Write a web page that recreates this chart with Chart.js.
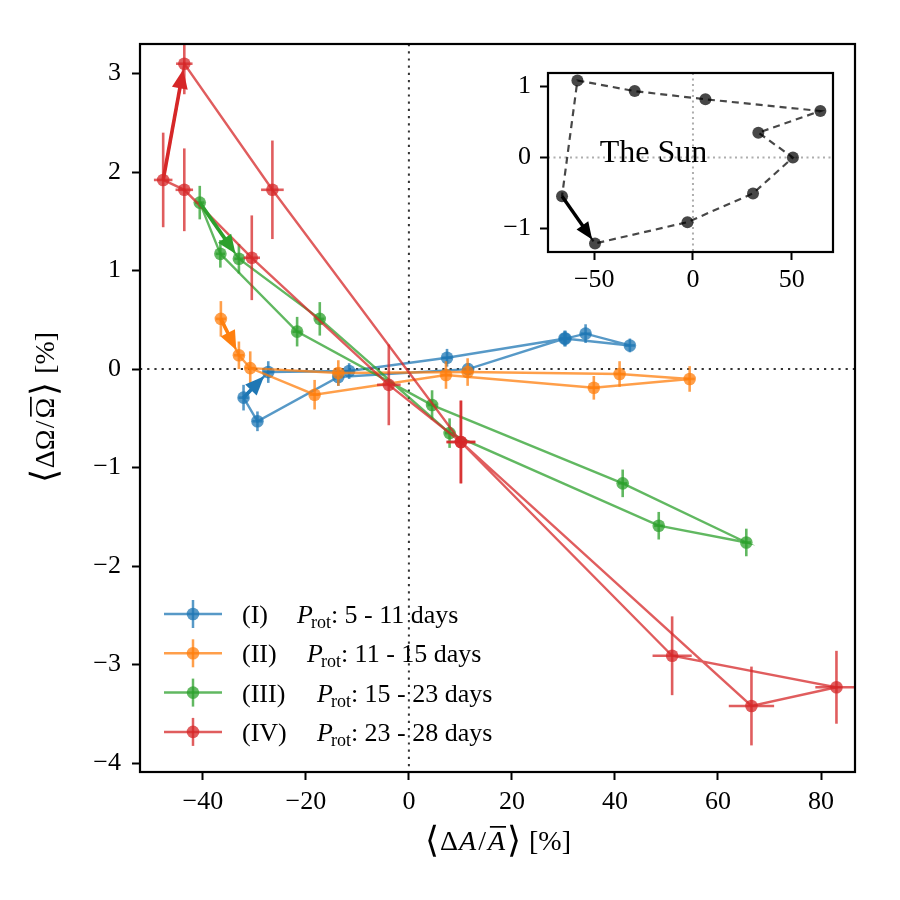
<!DOCTYPE html>
<html>
<head>
<meta charset="UTF-8">
<title>Rotation shear vs spot area</title>
<script src="https://cdn.jsdelivr.net/npm/chart.js@4.4.1/dist/chart.umd.min.js"></script>
<style>
    body { margin: 0; background: #fff; }
    #wrap { position: relative; width: 900px; height: 900px; }
    #mainChart { position: absolute; left: 0; top: 0; }
    #sunChart { position: absolute; left: 480px; top: 40px; }
</style>
</head>
<body>
<div id="wrap">
    <canvas id="mainChart" width="900" height="900"></canvas>
    <canvas id="sunChart" width="400" height="260"></canvas>
</div>
<script>
// axis limits and ticks
var xRange = [-52.2, 86.6];
var yRange = [-4.09, 3.30];
var xTicks = [-40, -20, 0, 20, 40, 60, 80];
var yTicks = [-4, -3, -2, -1, 0, 1, 2, 3];

// group I, Prot 5 - 11 days (points in the order they are joined)
var g1X  = [-32.1, -27.3, -11.6, 7.4, 30.4, 34.3, 42.9, 30.2, 11.5, -13.7, -29.4];
var g1Y  = [-0.29, -0.03, -0.02, 0.115, 0.31, 0.36, 0.24, 0.31, 0.0, -0.08, -0.53];
var g1Xe = [1.0, 1.0, 1.0, 1.0, 1.0, 1.0, 1.0, 1.0, 1.0, 1.0, 1.0];
var g1Ye = [0.13, 0.11, 0.08, 0.09, 0.08, 0.095, 0.07, 0.08, 0.06, 0.09, 0.10];

// group II, Prot 11 - 15 days
var g2X  = [-36.5, -33.0, -30.8, -18.3, 7.2, 35.9, 54.5, 40.9, 11.4, -13.7];
var g2Y  = [0.51, 0.14, 0.01, -0.26, -0.06, -0.19, -0.10, -0.05, -0.03, -0.04];
var g2Xe = [1.0, 1.0, 1.0, 1.0, 1.0, 1.0, 1.0, 1.0, 1.0, 1.0];
var g2Ye = [0.18, 0.14, 0.17, 0.15, 0.14, 0.12, 0.13, 0.13, 0.14, 0.13];

// group III, Prot 15 - 23 days
var g3X  = [-40.6, -33.0, -17.3, 7.9, 48.5, 65.5, 41.5, 4.5, -21.7, -36.6];
var g3Y  = [1.69, 1.12, 0.51, -0.65, -1.59, -1.76, -1.16, -0.365, 0.38, 1.17];
var g3Xe = [0.9, 0.9, 0.9, 0.9, 0.9, 0.9, 0.9, 0.9, 0.9, 0.9];
var g3Ye = [0.17, 0.15, 0.17, 0.15, 0.14, 0.14, 0.14, 0.15, 0.15, 0.14];

// group IV, Prot 23 - 28 days
var g4X  = [-47.7, -43.6, -26.5, 10.1, 51.1, 83.0, 66.5, 10.1, -3.9, -30.5, -43.6];
var g4Y  = [1.92, 3.10, 1.82, -0.74, -2.91, -3.23, -3.42, -0.74, -0.16, 1.13, 1.82];
var g4Xe = [1.8, 1.6, 2.2, 2.8, 3.8, 4.1, 4.4, 2.8, 2.3, 1.6, 1.7];
var g4Ye = [0.48, 0.31, 0.50, 0.42, 0.40, 0.37, 0.40, 0.42, 0.41, 0.43, 0.42];

var groupNames  = ['(I)', '(II)', '(III)', '(IV)'];
var groupRanges = ['5 - 11', '11 - 15', '15 - 23', '23 - 28'];
var groupColors = ['#1f77b4', '#ff7f0e', '#2ca02c', '#d62728'];
var groupClose  = [0, 2, 0, 0];   // index the last point joins back to

// the Sun (inset)
var sunX = [-66.3, -49.6, -2.8, 30.4, 50.6, 33.1, 64.5, 6.3, -29.5, -58.5];
var sunY = [-0.545, -1.21, -0.91, -0.505, 0.0, 0.35, 0.655, 0.82, 0.935, 1.085];
var sunXRange = [-73.4, 70.9];
var sunYRange = [-1.33, 1.19];
var sunXTicks = [-50, 0, 50];
var sunYTicks = [-1, 0, 1];

var SERIF = "'Liberation Serif', 'Times New Roman', serif";
Chart.defaults.font.family = SERIF;
Chart.defaults.color = '#000';

function rgba(hex, a) {
    var n = parseInt(hex.slice(1), 16);
    return 'rgba(' + (n >> 16) + ',' + ((n >> 8) & 255) + ',' + (n & 255) + ',' + a + ')';
}
function minusLabel(v) {
    return v < 0 ? '\u2212' + Math.abs(v) : '' + v;
}

var groups = [
    {x: g1X, y: g1Y, xe: g1Xe, ye: g1Ye},
    {x: g2X, y: g2Y, xe: g2Xe, ye: g2Ye},
    {x: g3X, y: g3Y, xe: g3Xe, ye: g3Ye},
    {x: g4X, y: g4Y, xe: g4Xe, ye: g4Ye}
];

var datasets = groups.map(function (g, k) {
    var pts = g.x.map(function (v, i) { return {x: v, y: g.y[i]}; });
    var n = pts.length;
    if (groupClose[k] !== null) pts.push({x: g.x[groupClose[k]], y: g.y[groupClose[k]]});
    return {
        data: pts,
        showLine: true,
        borderColor: rgba(groupColors[k], 0.75),
        borderWidth: 2.4,
        backgroundColor: rgba(groupColors[k], 0.75),
        pointRadius: pts.map(function (p, i) { return i < n ? 6.3 : 0; }),
        pointHoverRadius: 0,
        pointBorderWidth: 0,
        order: 4 - k
    };
});

function drawArrow(ctx, x0, y0, x1, y1, color, shrink, head, lw) {
    var dx = x1 - x0, dy = y1 - y0, L = Math.hypot(dx, dy);
    var ux = dx / L, uy = dy / L;
    var tx = x1 - ux * shrink, ty = y1 - uy * shrink;
    var bx = tx - ux * head, by = ty - uy * head;
    var hw = head * 0.42;
    ctx.strokeStyle = color;
    ctx.fillStyle = color;
    ctx.lineWidth = lw;
    ctx.beginPath(); ctx.moveTo(x0, y0); ctx.lineTo(bx + ux * 2, by + uy * 2); ctx.stroke();
    ctx.beginPath();
    ctx.moveTo(tx, ty);
    ctx.lineTo(bx - uy * hw, by + ux * hw);
    ctx.lineTo(bx + uy * hw, by - ux * hw);
    ctx.closePath();
    ctx.fill();
}

// error bars under each group's line
var errorBars = {
    id: 'errorBars',
    beforeDatasetDraw: function (chart, args) {
        var g = groups[args.index];
        var ctx = chart.ctx, xs = chart.scales.x, ys = chart.scales.y, a = chart.chartArea;
        ctx.save();
        ctx.beginPath(); ctx.rect(a.left, a.top, a.right - a.left, a.bottom - a.top); ctx.clip();
        ctx.strokeStyle = rgba(groupColors[args.index], 0.75);
        ctx.lineWidth = 2.6;
        for (var i = 0; i < g.x.length; i++) {
            var px = xs.getPixelForValue(g.x[i]), py = ys.getPixelForValue(g.y[i]);
            ctx.beginPath();
            ctx.moveTo(xs.getPixelForValue(g.x[i] - g.xe[i]), py);
            ctx.lineTo(xs.getPixelForValue(g.x[i] + g.xe[i]), py);
            ctx.stroke();
            ctx.beginPath();
            ctx.moveTo(px, ys.getPixelForValue(g.y[i] - g.ye[i]));
            ctx.lineTo(px, ys.getPixelForValue(g.y[i] + g.ye[i]));
            ctx.stroke();
        }
        ctx.restore();
    }
};

// dotted zero lines
var zeroLines = {
    id: 'zeroLines',
    beforeDatasetsDraw: function (chart, args, opts) {
        var ctx = chart.ctx, a = chart.chartArea;
        var x0 = chart.scales.x.getPixelForValue(0), y0 = chart.scales.y.getPixelForValue(0);
        ctx.save();
        ctx.strokeStyle = opts.color;
        ctx.lineWidth = opts.width;
        ctx.setLineDash(opts.dash);
        ctx.beginPath();
        ctx.moveTo(x0, a.top); ctx.lineTo(x0, a.bottom);
        ctx.moveTo(a.left, y0); ctx.lineTo(a.right, y0);
        ctx.stroke();
        ctx.restore();
    }
};

var frame = {
    id: 'frame',
    afterDatasetsDraw: function (chart) {
        var ctx = chart.ctx, a = chart.chartArea;
        ctx.save();
        ctx.strokeStyle = '#000';
        ctx.lineWidth = 2.2;
        ctx.strokeRect(a.left, a.top, a.right - a.left, a.bottom - a.top);
        ctx.restore();
    }
};

var arrows = {
    id: 'arrows',
    afterDatasetsDraw: function (chart) {
        var ctx = chart.ctx, xs = chart.scales.x, ys = chart.scales.y;
        ctx.save();
        groups.forEach(function (g, k) {
            drawArrow(ctx, xs.getPixelForValue(g.x[0]), ys.getPixelForValue(g.y[0]),
                xs.getPixelForValue(g.x[1]), ys.getPixelForValue(g.y[1]), groupColors[k], 6, 19, 3.6);
        });
        ctx.restore();
    }
};

function drawRich(ctx, parts, cx, cy) {
    var w = 0;
    parts.forEach(function (p) { ctx.font = p.f; p.w = ctx.measureText(p.t).width + (p.gap || 0); w += p.w; });
    var x = cx - w / 2;
    ctx.textAlign = 'left';
    ctx.textBaseline = 'middle';
    parts.forEach(function (p) {
        ctx.font = p.f;
        ctx.fillText(p.t, x + (p.gap || 0) / 2, cy + (p.dy || 0));
        if (p.over) ctx.fillRect(x + 3, cy - 17, p.w - 3, 1.7);
        x += p.w;
    });
}

var titles = {
    id: 'titles',
    afterDraw: function (chart) {
        var ctx = chart.ctx, a = chart.chartArea;
        var big = '36px ' + SERIF, rm = '28px ' + SERIF, it = 'italic 28px ' + SERIF;
        ctx.save();
        ctx.fillStyle = '#000';
        drawRich(ctx, [
            {t: '\u27E8', f: big, gap: 2}, {t: '\u0394', f: rm}, {t: 'A', f: it, gap: 2},
            {t: '/', f: rm, gap: 2}, {t: 'A', f: it, over: true, gap: 2}, {t: '\u27E9', f: big, gap: 2},
            {t: ' [%]', f: rm}
        ], (a.left + a.right) / 2, 843);
        ctx.translate(47, (a.top + a.bottom) / 2);
        ctx.rotate(-Math.PI / 2);
        drawRich(ctx, [
            {t: '\u27E8', f: big, gap: 2}, {t: '\u0394\u03A9', f: rm}, {t: '/', f: rm, gap: 2},
            {t: '\u03A9', f: rm, over: true, gap: 2}, {t: '\u27E9', f: big, gap: 2}, {t: ' [%]', f: rm}
        ], 0, 0);
        ctx.restore();
    }
};

// legend with subscripted P_rot
var legendPOffset = [297, 307, 317, 317];
var legendRows = {
    id: 'legendRows',
    afterDraw: function (chart) {
        var ctx = chart.ctx;
        ctx.save();
        ctx.textAlign = 'left';
        ctx.textBaseline = 'alphabetic';
        groups.forEach(function (g, k) {
            var cy = 614 + k * 39.3, col = rgba(groupColors[k], 0.75);
            ctx.strokeStyle = col; ctx.fillStyle = col; ctx.lineWidth = 2.5;
            ctx.beginPath(); ctx.moveTo(164, cy); ctx.lineTo(222, cy); ctx.stroke();
            ctx.beginPath(); ctx.moveTo(193, cy - 14); ctx.lineTo(193, cy + 14); ctx.stroke();
            ctx.beginPath(); ctx.arc(193, cy, 6.3, 0, Math.PI * 2); ctx.fill();
            ctx.fillStyle = '#000';
            var base = cy + 9;
            ctx.font = '26px ' + SERIF;
            ctx.fillText(groupNames[k], 242, base);
            var x = legendPOffset[k];
            ctx.font = 'italic 26px ' + SERIF;
            ctx.fillText('P', x, base);
            x += ctx.measureText('P').width - 2;
            ctx.font = '18px ' + SERIF;
            ctx.fillText('rot', x, base + 5);
            x += ctx.measureText('rot').width;
            ctx.font = '26px ' + SERIF;
            ctx.fillText(': ' + groupRanges[k] + ' days', x, base);
        });
        ctx.restore();
    }
};

function axisOpts(range, tickList, isX, fitSize, pad) {
    return {
        type: 'linear',
        min: range[0],
        max: range[1],
        afterBuildTicks: function (s) { s.ticks = tickList.map(function (v) { return {value: v}; }); },
        afterFit: function (s) { if (isX) s.height = fitSize; else s.width = fitSize; },
        grid: {drawOnChartArea: false, drawTicks: true, tickLength: 8, tickWidth: 2, tickColor: '#000'},
        border: {display: false},
        ticks: {font: {size: 26}, color: '#000', padding: pad, autoSkip: false, maxRotation: 0,
                callback: minusLabel}
    };
}

new Chart(document.getElementById('mainChart'), {
    type: 'scatter',
    data: {datasets: datasets},
    options: {
        responsive: false,
        animation: false,
        devicePixelRatio: 1,
        events: [],
        layout: {padding: {left: 0, top: 44, right: 45, bottom: 0}},
        plugins: {
            legend: {display: false},
            tooltip: {enabled: false},
            zeroLines: {color: '#333', width: 2, dash: [2.2, 5]}
        },
        scales: {
            x: axisOpts(xRange, xTicks, true, 128, 7),
            y: axisOpts(yRange, yTicks, false, 140, 11)
        }
    },
    plugins: [zeroLines, errorBars, frame, arrows, titles, legendRows]
});

// inset: the Sun
var sunPts = sunX.map(function (v, i) { return {x: v, y: sunY[i]}; });
sunPts.push({x: sunX[0], y: sunY[0]});

var insetBg = {
    id: 'insetBg',
    beforeDraw: function (chart) {
        var a = chart.chartArea;
        chart.ctx.save();
        chart.ctx.fillStyle = '#fff';
        chart.ctx.fillRect(a.left, a.top, a.right - a.left, a.bottom - a.top);
        chart.ctx.restore();
    }
};
var sunExtras = {
    id: 'sunExtras',
    afterDatasetsDraw: function (chart) {
        var ctx = chart.ctx, xs = chart.scales.x, ys = chart.scales.y;
        ctx.save();
        drawArrow(ctx, xs.getPixelForValue(sunX[0]), ys.getPixelForValue(sunY[0]),
            xs.getPixelForValue(sunX[1]), ys.getPixelForValue(sunY[1]), '#000', 5, 17, 3.4);
        ctx.font = '32px ' + SERIF;
        ctx.fillStyle = '#000';
        ctx.textAlign = 'left';
        ctx.textBaseline = 'middle';
        ctx.fillText('The Sun', xs.getPixelForValue(-47.2), ys.getPixelForValue(0.06));
        ctx.restore();
    }
};

new Chart(document.getElementById('sunChart'), {
    type: 'scatter',
    data: {datasets: [{
        data: sunPts,
        showLine: true,
        borderColor: 'rgba(0,0,0,0.72)',
        borderWidth: 2.2,
        borderDash: [7, 5],
        backgroundColor: 'rgba(0,0,0,0.72)',
        pointRadius: sunPts.map(function (p, i) { return i < sunX.length ? 6 : 0; }),
        pointHoverRadius: 0,
        pointBorderWidth: 0
    }]},
    options: {
        responsive: false,
        animation: false,
        devicePixelRatio: 1,
        events: [],
        layout: {padding: {left: 0, top: 33, right: 47, bottom: 0}},
        plugins: {
            legend: {display: false},
            tooltip: {enabled: false},
            zeroLines: {color: 'rgba(160,160,160,0.85)', width: 2, dash: [2, 3.5]}
        },
        scales: {
            x: axisOpts(sunXRange, sunXTicks, true, 48, 5),
            y: axisOpts(sunYRange, sunYTicks, false, 68, 9)
        }
    },
    plugins: [insetBg, zeroLines, frame, sunExtras]
});
</script>
</body>
</html>
